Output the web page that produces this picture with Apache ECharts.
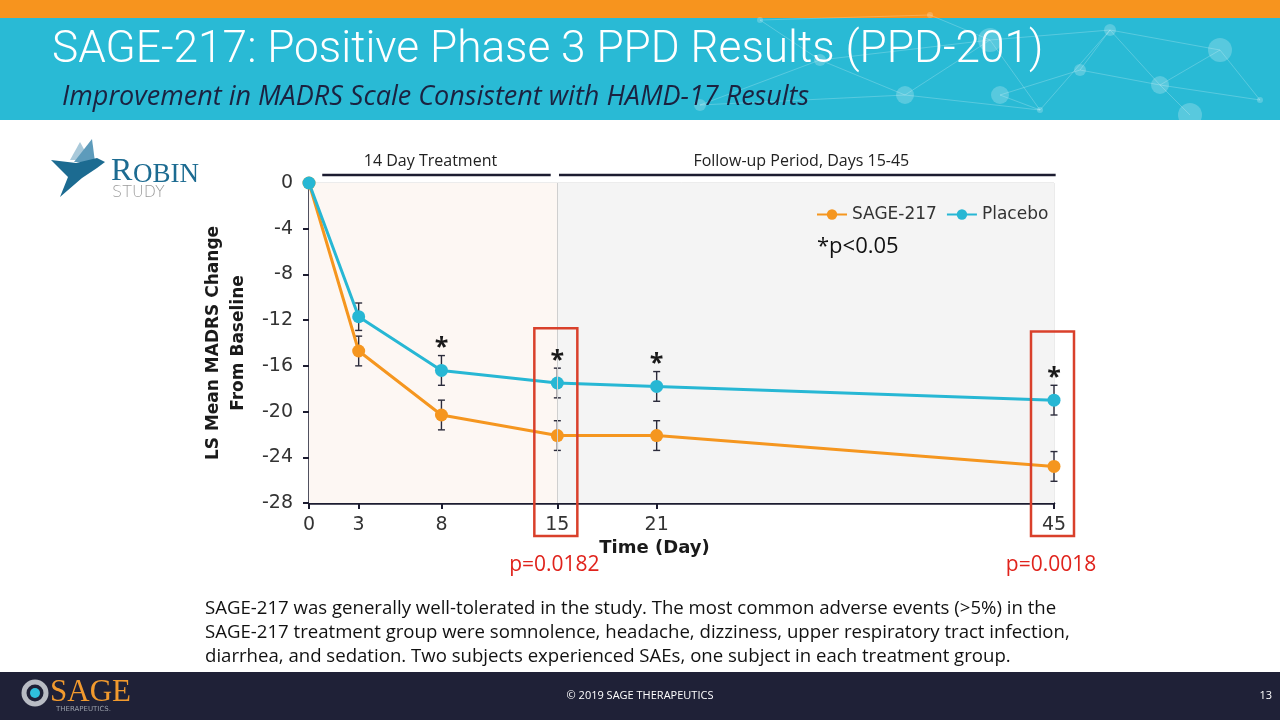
<!DOCTYPE html>
<html>
<head>
<meta charset="utf-8">
<script src="https://cdn.jsdelivr.net/npm/echarts@6/dist/echarts.min.js"></script>
<style>
html,body{margin:0;padding:0;background:#fff;}
#chart{width:1280px;height:720px;}
</style>
</head>
<body>
<div id="chart"></div>
<script>
// ---------- data ----------
const days = [0, 3, 8, 15, 21, 45];
const sage = [0, -14.7, -20.3, -22.1, -22.1, -24.8];
const placebo = [0, -11.7, -16.4, -17.5, -17.8, -19.0];
const sageSE = [0, 1.3, 1.3, 1.3, 1.3, 1.3];
const placeboSE = [0, 1.2, 1.3, 1.3, 1.3, 1.3];
const sigDays = [8, 15, 21, 45];
const xTickValues = [0, 3, 8, 15, 21, 45];
const seriesNames = ['SAGE-217', 'Placebo'];
const periodStarts = [0.8, 15.1];
const periodEnds = [14.6, 45.1];
const periodLabels = ['14 Day Treatment', 'Follow-up Period, Days 15-45'];
const highlightDays = [15, 45];
const highlightTops = [-12.7, -13.0];
const highlightLabels = ['p=0.0182', 'p=0.0018'];
const shadeBreak = 15;
const yMin = -28, yMax = 0, yInterval = 4;
const xMin = 0, xMax = 45;

const titleText = 'SAGE-217: Positive Phase 3 PPD Results (PPD-201)';
const subtitleText = 'Improvement in MADRS Scale Consistent with HAMD-17 Results';
const sigNote = '*p<0.05';
const bodyLines = [
  'SAGE-217 was generally well-tolerated in the study. The most common adverse events (>5%) in the',
  'SAGE-217 treatment group were somnolence, headache, dizziness, upper respiratory tract infection,',
  'diarrhea, and sedation. Two subjects experienced SAEs, one subject in each treatment group.'
];

// ---------- styles ----------
const ORANGE = '#F5961F';
const CYAN = '#27B7D4';
const AXIS = '#1c1c30';
const GOTHIC = "'DejaVu Sans', sans-serif";
const CAL = "'Open Sans', sans-serif";

const chart = echarts.init(document.getElementById('chart'));

function errData(vals, se) {
  const out = [];
  days.forEach((d, i) => { if (se[i] > 0) out.push([d, vals[i], se[i]]); });
  return out;
}
function errRender(params, api) {
  const x = api.value(0), v = api.value(1), se = api.value(2);
  const hi = api.coord([x, v + se]);
  const lo = api.coord([x, v - se]);
  const w = 3.5;
  const st = { stroke: '#2b2b3b', lineWidth: 1.4 };
  return { type: 'group', children: [
    { type: 'line', shape: { x1: hi[0], y1: hi[1], x2: lo[0], y2: lo[1] }, style: st },
    { type: 'line', shape: { x1: hi[0] - w, y1: hi[1], x2: hi[0] + w, y2: hi[1] }, style: st },
    { type: 'line', shape: { x1: lo[0] - w, y1: lo[1], x2: lo[0] + w, y2: lo[1] }, style: st }
  ]};
}

const starData = sigDays.map(d => {
  const i = days.indexOf(d);
  return [d, placebo[i] + placeboSE[i]];
});
const highlightData = highlightDays.map((d, i) => [d, highlightTops[i], i]);
const periodData = periodStarts.map((s, i) => [s, periodEnds[i], i]);

// header decoration (network texture)
const deco = [];
const nodes = [[760,20],[820,60],[905,95],[990,40],[1040,110],[1110,30],[1160,85],[1220,50],[1260,100],[700,105],[1000,95],[1190,115],[930,15],[1080,70]];
const links = [[0,1],[1,2],[2,3],[3,4],[4,5],[5,6],[6,7],[7,8],[1,3],[2,4],[3,5],[5,7],[6,8],[9,2],[10,4],[11,6],[12,3],[13,5],[13,6],[10,13],[0,12],[9,1]];
links.forEach(l => deco.push({ type: 'line', silent: true, shape: { x1: nodes[l[0]][0], y1: nodes[l[0]][1], x2: nodes[l[1]][0], y2: nodes[l[1]][1] }, style: { stroke: 'rgba(255,255,255,0.22)', lineWidth: 1 } }));
nodes.forEach((n, i) => deco.push({ type: 'circle', silent: true, shape: { cx: n[0], cy: n[1], r: 3 + (i % 4) * 3 }, style: { fill: 'rgba(255,255,255,0.22)' } }));

const option = {
  animation: false,
  backgroundColor: '#ffffff',
  grid: { left: 309, right: 226, top: 183, bottom: 217, show: true, borderColor: '#d8d8d8', borderWidth: 1, backgroundColor: 'transparent' },
  legend: {
    data: seriesNames,
    left: 811, top: 201,
    itemWidth: 30, itemHeight: 13, itemGap: 9,
    textStyle: { fontFamily: GOTHIC, fontSize: 17, color: '#333' }
  },
  xAxis: {
    type: 'value', min: xMin, max: xMax,
    name: 'Time (Day)', nameLocation: 'middle', nameGap: 36,
    nameTextStyle: { fontFamily: GOTHIC, fontWeight: 'bold', fontSize: 18, color: '#1a1a1a', padding: [0, 54, 0, 0] },
    axisLine: { onZero: false, lineStyle: { color: AXIS, width: 2.5 } },
    axisTick: { show: true, customValues: xTickValues, length: 6, lineStyle: { color: AXIS, width: 2 } },
    axisLabel: { customValues: xTickValues, fontFamily: GOTHIC, fontSize: 19, color: '#333', margin: 13 },
    splitLine: { show: false }
  },
  yAxis: {
    type: 'value', min: yMin, max: yMax, interval: yInterval,
    name: 'LS Mean MADRS Change\nFrom Baseline', nameLocation: 'middle', nameGap: 56,
    nameTextStyle: { fontFamily: GOTHIC, fontWeight: 'bold', fontSize: 17, color: '#1a1a1a', lineHeight: 25 },
    axisLine: { show: true, onZero: false, lineStyle: { color: AXIS, width: 2.5 } },
    axisTick: { show: true, length: 6, lineStyle: { color: AXIS, width: 2 } },
    axisLabel: { fontFamily: GOTHIC, fontSize: 19, color: '#333', margin: 16 },
    splitLine: { show: false }
  },
  series: [
    {
      name: 'SAGE-217', type: 'line', z: 4,
      data: days.map((d, i) => [d, sage[i]]),
      color: ORANGE, lineStyle: { width: 3 }, symbol: 'circle', symbolSize: 13,
      markArea: {
        silent: true,
        data: [
          [{ xAxis: xMin, itemStyle: { color: '#fdf7f3' } }, { xAxis: shadeBreak }],
          [{ xAxis: shadeBreak, itemStyle: { color: '#f4f4f4' } }, { xAxis: xMax }]
        ]
      },
      markLine: {
        silent: true, symbol: 'none', label: { show: false },
        lineStyle: { color: '#cfcfcf', width: 1, type: 'solid' },
        data: [{ xAxis: shadeBreak }]
      }
    },
    {
      name: 'Placebo', type: 'line', z: 4,
      data: days.map((d, i) => [d, placebo[i]]),
      color: CYAN, lineStyle: { width: 3 }, symbol: 'circle', symbolSize: 13
    },
    {
      type: 'custom', z: 3, silent: true, clip: false,
      data: errData(sage, sageSE), encode: { x: 0, y: 1 }, renderItem: errRender
    },
    {
      type: 'custom', z: 3, silent: true, clip: false,
      data: errData(placebo, placeboSE), encode: { x: 0, y: 1 }, renderItem: errRender
    },
    {
      type: 'custom', z: 5, silent: true, clip: false,
      data: starData, encode: { x: 0, y: 1 },
      renderItem: function (params, api) {
        const p = api.coord([api.value(0), api.value(1)]);
        return { type: 'text', x: p[0], y: p[1] + 5, style: { text: '*', fontFamily: CAL, fontSize: 25, fontWeight: 'bold', fill: '#1a1a1a', align: 'center', verticalAlign: 'bottom' } };
      }
    },
    {
      type: 'custom', z: 6, silent: true, clip: false,
      data: highlightData, encode: { x: 0, y: 1 },
      renderItem: function (params, api) {
        const d = api.value(0), top = api.value(1), idx = api.value(2);
        const c = api.coord([d, top]);
        const bottom = api.coord([d, yMin])[1] + 33;
        return { type: 'group', children: [
          { type: 'rect', shape: { x: c[0] - 23, y: c[1], width: 43, height: bottom - c[1] }, style: { fill: 'none', stroke: '#d9402b', lineWidth: 2.5 } },
          { type: 'text', x: c[0] - 3, y: bottom + 29, style: { text: highlightLabels[idx], fontFamily: CAL, fontSize: 21, fill: '#e0231c', align: 'center', verticalAlign: 'middle' } }
        ]};
      }
    },
    {
      type: 'custom', z: 6, silent: true, clip: false,
      data: periodData, encode: { x: [0, 1] },
      renderItem: function (params, api) {
        const s = api.coord([api.value(0), yMax]);
        const e = api.coord([api.value(1), yMax]);
        const y = s[1] - 8;
        return { type: 'group', children: [
          { type: 'line', shape: { x1: s[0], y1: y, x2: e[0], y2: y }, style: { stroke: AXIS, lineWidth: 2.5 } },
          { type: 'text', x: (s[0] + e[0]) / 2 - 6, y: y - 14, style: { text: periodLabels[api.value(2)], fontFamily: CAL, fontSize: 16, fill: '#222', align: 'center', verticalAlign: 'middle' } }
        ]};
      }
    }
  ],
  graphic: [
    { type: 'rect', silent: true, z: -1, shape: { x: 0, y: 0, width: 1280, height: 18 }, style: { fill: '#F7941E' } },
    { type: 'rect', silent: true, z: -1, shape: { x: 0, y: 18, width: 1280, height: 102 }, style: { fill: '#29BAD5' } },
    { type: 'group', silent: true, children: deco },
    { type: 'text', silent: true, left: 52, top: 29, style: { text: titleText, fontFamily: "Roboto, sans-serif", fontWeight: 300, fontSize: 44.2, fill: '#ffffff' } },
    { type: 'text', silent: true, left: 62, top: 84, style: { text: subtitleText, fontFamily: CAL, fontStyle: 'italic', fontSize: 27, fill: '#1b2240' } },
    // Robin Study logo
    { type: 'polygon', silent: true, shape: { points: [[70,160],[80,142],[90,160]] }, style: { fill: '#a9c9da' } },
    { type: 'polygon', silent: true, shape: { points: [[74,162],[92,139],[95,162]] }, style: { fill: '#5d9bbb' } },
    { type: 'polygon', silent: true, shape: { points: [[51,160],[76,163],[97,158],[105,162],[97,168],[82,178],[60,197],[68,177]] }, style: { fill: '#1c6b91' } },
    { type: 'text', silent: true, left: 111, top: 156, style: { text: 'R', fontFamily: "'Liberation Serif', serif", fontSize: 32, fill: '#1c6b91' } },
    { type: 'text', silent: true, left: 133, top: 161, style: { text: 'OBIN', fontFamily: "'Liberation Serif', serif", fontSize: 27, fill: '#1c6b91' } },
    { type: 'text', silent: true, left: 112, top: 185, style: { text: 'STUDY', fontFamily: GOTHIC, fontSize: 16, fontWeight: 'lighter', fill: '#9a9a9a', letterSpacing: 5 } },
    // significance note
    { type: 'text', silent: true, z: 20, left: 817, top: 236, style: { text: sigNote, fontFamily: CAL, fontSize: 22, fill: '#111' } },
    // body text
    { type: 'text', silent: true, left: 205, top: 597, style: { text: bodyLines.join('\n'), fontFamily: CAL, fontSize: 18.6, lineHeight: 24, fill: '#111' } },
    // footer
    { type: 'rect', silent: true, shape: { x: 0, y: 672, width: 1280, height: 48 }, style: { fill: '#1f2137' } },
    { type: 'circle', silent: true, shape: { cx: 35, cy: 693, r: 11 }, style: { fill: 'none', stroke: '#b8bcc4', lineWidth: 5 } },
    { type: 'circle', silent: true, shape: { cx: 35, cy: 693, r: 5 }, style: { fill: '#2fc0dc' } },
    { type: 'text', silent: true, left: 50, top: 677, style: { text: 'SAGE', fontFamily: "'Liberation Serif', serif", fontSize: 31, fill: '#f29a2e' } },
    { type: 'text', silent: true, left: 56, top: 706, style: { text: 'THERAPEUTICS.', fontFamily: GOTHIC, fontSize: 7, fill: '#9aa0ab', letterSpacing: 1.5 } },
    { type: 'text', silent: true, left: 'center', top: 690, style: { text: '© 2019 SAGE THERAPEUTICS', fontFamily: CAL, fontSize: 11, fill: '#ffffff' } },
    { type: 'text', silent: true, right: 8, top: 690, style: { text: '13', fontFamily: CAL, fontSize: 11, fill: '#ffffff' } }
  ]
};
chart.setOption(option);
</script>
</body>
</html>
